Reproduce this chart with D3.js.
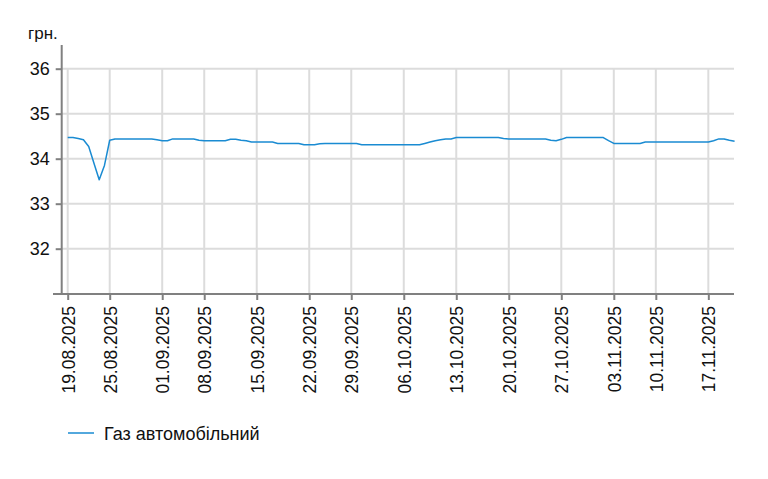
<!DOCTYPE html>
<html>
<head>
<meta charset="utf-8">
<script src="https://cdn.jsdelivr.net/npm/d3@7"></script>
<style>
  html, body { margin: 0; padding: 0; background: #fff; }
  svg { display: block; font-family: "Liberation Sans", Arial, sans-serif; }
</style>
</head>
<body>
<svg id="chart" width="768" height="479"></svg>
<script>
// ---- data ----
const seriesName = "Газ автомобільний";
const unitLabel = "грн.";
const values = [
  34.47, 34.47, 34.45, 34.42, 34.27, 33.90, 33.53, 33.85, 34.41, 34.44,
  34.44, 34.44, 34.44, 34.44, 34.44, 34.44, 34.44, 34.42, 34.40, 34.40,
  34.44, 34.44, 34.44, 34.44, 34.44, 34.41, 34.40, 34.40, 34.40, 34.40,
  34.40, 34.43, 34.43, 34.41, 34.40, 34.37, 34.37, 34.37, 34.37, 34.37,
  34.34, 34.34, 34.34, 34.34, 34.34, 34.31, 34.31, 34.31, 34.33, 34.34,
  34.34, 34.34, 34.34, 34.34, 34.34, 34.34, 34.31, 34.31, 34.31, 34.31,
  34.31, 34.31, 34.31, 34.31, 34.31, 34.31, 34.31, 34.31, 34.34, 34.37,
  34.40, 34.42, 34.44, 34.44, 34.47, 34.47, 34.47, 34.47, 34.47, 34.47,
  34.47, 34.47, 34.47, 34.45, 34.44, 34.44, 34.44, 34.44, 34.44, 34.44,
  34.44, 34.44, 34.41, 34.40, 34.43, 34.47, 34.47, 34.47, 34.47, 34.47,
  34.47, 34.47, 34.47, 34.40, 34.34, 34.34, 34.34, 34.34, 34.34, 34.34,
  34.37, 34.37, 34.37, 34.37, 34.37, 34.37, 34.37, 34.37, 34.37, 34.37,
  34.37, 34.37, 34.37, 34.40, 34.44, 34.44, 34.41, 34.39
];
const tickIndices = [0, 8, 18, 26, 36, 46, 54, 64, 74, 84, 94, 104, 112, 122];
const tickLabels = ["19.08.2025", "25.08.2025", "01.09.2025", "08.09.2025", "15.09.2025",
  "22.09.2025", "29.09.2025", "06.10.2025", "13.10.2025", "20.10.2025",
  "27.10.2025", "03.11.2025", "10.11.2025", "17.11.2025"];
const yTicks = [32, 33, 34, 35, 36];

// ---- layout ----
const svg = d3.select("#chart");
const lineColor = "#1a8bd2";
const gridColor = "#dcdcdc";
const axisColor = "#808080";
const font = "'Liberation Sans', Arial, sans-serif";

const x = d3.scaleLinear().domain([0, values.length - 1]).range([67.7, 67.7 + 5.251 * (values.length - 1)]);
const y = d3.scaleLinear().domain([31, 36]).range([293.7, 68.7]);
const xRight = 734;

// horizontal gridlines
svg.append("g").selectAll("line").data(yTicks).join("line")
  .attr("x1", 62).attr("x2", xRight)
  .attr("y1", d => y(d)).attr("y2", d => y(d))
  .attr("stroke", gridColor).attr("stroke-width", 2);

// vertical gridlines
svg.append("g").selectAll("line").data(tickIndices).join("line")
  .attr("x1", d => x(d)).attr("x2", d => x(d))
  .attr("y1", y(36)).attr("y2", y(31))
  .attr("stroke", gridColor).attr("stroke-width", 2);

// y axis
const yAxis = d3.axisLeft(y).tickValues(yTicks).tickSize(6).tickPadding(6).tickFormat(d3.format("d"));
const gy = svg.append("g").attr("transform", "translate(61.7,0)").call(yAxis);
gy.select(".domain").remove();
gy.selectAll(".tick line").attr("stroke", axisColor).attr("stroke-width", 2);
gy.selectAll(".tick text").attr("fill", "#111").style("font-size", "18px")
  .style("font-family", font);
svg.append("line").attr("x1", 61.7).attr("x2", 61.7).attr("y1", 45).attr("y2", 294.7)
  .attr("stroke", axisColor).attr("stroke-width", 2);

// x axis
const xAxis = d3.axisBottom(x).tickValues(tickIndices).tickSize(6).tickPadding(7)
  .tickFormat((d, i) => tickLabels[i]);
const gx = svg.append("g").attr("transform", "translate(0,294)").call(xAxis);
gx.select(".domain").remove();
gx.selectAll(".tick line").attr("stroke", axisColor).attr("stroke-width", 2);
gx.selectAll(".tick text").attr("fill", "#111").style("font-size", "17.5px")
  .style("font-family", font)
  .attr("transform", "rotate(-90)")
  .attr("text-anchor", "end")
  .attr("x", -12).attr("y", 0).attr("dy", "0.36em");
svg.append("line").attr("x1", 53).attr("x2", xRight).attr("y1", 294).attr("y2", 294)
  .attr("stroke", axisColor).attr("stroke-width", 2);

// unit label
svg.append("text").attr("x", 28).attr("y", 39).attr("fill", "#111")
  .style("font-size", "17px").text(unitLabel);

// line
const line = d3.line().x((d, i) => x(i)).y(d => y(d));
svg.append("path").datum(values).attr("d", line)
  .attr("fill", "none").attr("stroke", lineColor).attr("stroke-width", 1.5)
  .attr("stroke-linejoin", "round");

// legend
svg.append("line").attr("x1", 68).attr("x2", 94).attr("y1", 433).attr("y2", 433)
  .attr("stroke", lineColor).attr("stroke-width", 1.5);
svg.append("text").attr("x", 104).attr("y", 440).attr("fill", "#111")
  .style("font-size", "18px").text(seriesName);
</script>
</body>
</html>
